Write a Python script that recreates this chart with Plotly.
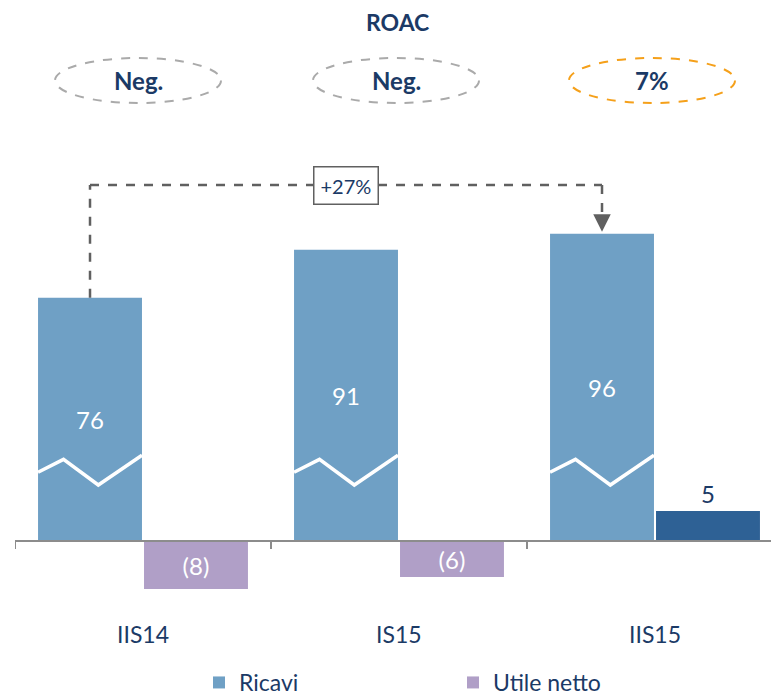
import plotly.graph_objects as go

# ---------------- data ----------------
categories = ["IIS14", "IS15", "IIS15"]
ricavi = [76, 91, 96]
utile_netto = [-8, -6, 5]
roac_labels = ["Neg.", "Neg.", "7%"]
growth_label = "+27%"

# ---------------- styling ----------------
NAVY = "#1b3a66"
C_RICAVI = "#6fa0c5"
C_NEG = "#b09fc7"
C_POS = "#2e6195"
GREY_LINE = "#606060"
FONT = "Lato"

OFF = 8                       # browser body margin
W, H = 779 - OFF, 698 - OFF
PLOT_L, PLOT_T, PLOT_B = 15, 120, 600   # page pixels
ML = PLOT_L - OFF
MT = PLOT_T - OFF
MB = H - (PLOT_B - OFF)
MR = 0
PW, PH = W - ML - MR, PLOT_B - PLOT_T
ZERO_PX = 541          # page pixel row of the zero line
K1, K2 = 3.2, 6.0      # px per unit for the two value axes
below = PLOT_B - ZERO_PX
above = ZERO_PX - PLOT_T
y1_range = [-below / K1, above / K1]
y2_range = [-below / K2, above / K2]

BAR_W = 0.406
GAP = 0.004
off_r = -(BAR_W + GAP)
off_u = GAP

x_idx = list(range(len(categories)))


def px2x(px):
    return (px - PLOT_L) / PW


def py2y(py):
    return (PLOT_B - py) / PH


def fmt(v):
    return f"({abs(v)})" if v < 0 else f"{v}"


fig = go.Figure()

fig.add_trace(go.Bar(
    x=x_idx, y=ricavi, name="Ricavi", yaxis="y",
    width=BAR_W, offset=off_r,
    marker=dict(color=C_RICAVI, line=dict(width=0)),
    text=[fmt(v) for v in ricavi], textposition="inside",
    insidetextanchor="middle",
    textfont=dict(color="white", size=24, family=FONT),
    hoverinfo="skip",
))

fig.add_trace(go.Bar(
    x=x_idx, y=utile_netto, name="Utile netto", yaxis="y2",
    width=BAR_W, offset=off_u,
    marker=dict(color=[C_NEG if v < 0 else C_POS for v in utile_netto],
                line=dict(width=0)),
    text=[fmt(v) for v in utile_netto],
    textposition=["inside" if v < 0 else "outside" for v in utile_netto],
    insidetextanchor="middle",
    textfont=dict(color=["white" if v < 0 else NAVY for v in utile_netto],
                  size=24, family=FONT),
    cliponaxis=False,
    hoverinfo="skip",
))

# zig-zag "axis break" decoration across each Ricavi bar
zz_fx = [0.0, 0.245, 0.58, 1.0]
zz_y = [21.5, 25.5, 17.5, 26.8]
for i in x_idx:
    xs = [i + off_r + f * BAR_W for f in zz_fx]
    fig.add_trace(go.Scatter(
        x=xs, y=zz_y, mode="lines", yaxis="y", showlegend=False,
        line=dict(color="white", width=3.5), hoverinfo="skip",
    ))

# growth bracket from first to last Ricavi bar
x_a = 0 + off_r + BAR_W / 2
x_b = len(categories) - 1 + off_r + BAR_W / 2
y_top = (ZERO_PX - 185) / K1
y_arrow_start = (ZERO_PX - 216) / K1
y_tip = ricavi[-1] + 2 / K1
dash = dict(color=GREY_LINE, width=2.5, dash="dash")
shapes = [
    dict(type="line", xref="x", yref="y", x0=x_a, x1=x_a, y0=ricavi[0], y1=y_top, line=dash),
    dict(type="line", xref="x", yref="y", x0=x_a, x1=x_b, y0=y_top, y1=y_top, line=dash),
    dict(type="line", xref="x", yref="y", x0=x_b, x1=x_b, y0=y_top, y1=y_arrow_start + 1, line=dash),
    # zero axis line
    dict(type="line", xref="paper", yref="y", x0=0, x1=1, y0=0, y1=0,
         line=dict(color="#8c8c8c", width=2)),
]
# ticks at category boundaries
for b in [-0.5, 0.5, 1.5, 2.5]:
    shapes.append(dict(type="line", xref="x", yref="y", x0=b, x1=b, y0=0, y1=-8 / K1,
                       line=dict(color="#8c8c8c", width=2)))

# ROAC ellipses
ell_cx = [138, 396, 652]
ell_col = ["#aaaaaa", "#aaaaaa", "#f5a01a"]
for cx, col in zip(ell_cx, ell_col):
    shapes.append(dict(type="circle", xref="paper", yref="paper",
                       x0=px2x(cx - 83), x1=px2x(cx + 83),
                       y0=py2y(103), y1=py2y(58),
                       line=dict(color=col, width=2, dash="dash")))

annotations = [
    dict(x=x_b, y=y_tip, ax=x_b, ay=y_arrow_start, xref="x", yref="y",
         axref="x", ayref="y", showarrow=True, arrowhead=2, arrowsize=1.4,
         arrowwidth=2.5, arrowcolor=GREY_LINE, text=""),
    dict(x=(x_a + x_b) / 2, y=y_top, xref="x", yref="y", text=growth_label,
         showarrow=False, bgcolor="white", bordercolor=GREY_LINE, borderwidth=1.5,
         borderpad=6, font=dict(color=NAVY, size=20, family=FONT)),
    dict(x=0.5, y=py2y(22), xref="paper", yref="paper", text="<b>ROAC</b>",
         xanchor="center", yanchor="middle",
         showarrow=False, font=dict(color=NAVY, size=23, family=FONT)),
]
for cx, lab in zip(ell_cx, roac_labels):
    annotations.append(dict(x=px2x(cx), y=py2y(81), xref="paper", yref="paper",
                            text=f"<b>{lab}</b>", showarrow=False,
                            xanchor="center", yanchor="middle",
                            font=dict(color=NAVY, size=24, family=FONT)))
for i, c in zip(x_idx, categories):
    annotations.append(dict(x=i, y=py2y(634), xref="x", yref="paper", text=c,
                            xanchor="center", yanchor="middle",
                            showarrow=False, font=dict(color=NAVY, size=23, family=FONT)))

fig.update_layout(
    width=W, height=H,
    margin=dict(l=ML, r=MR, t=MT, b=MB, autoexpand=False),
    paper_bgcolor="white", plot_bgcolor="white",
    font=dict(family=FONT, color=NAVY),
    xaxis=dict(range=[-0.5, -0.5 + PW / 256], showgrid=False, zeroline=False,
               showticklabels=False, showline=False, ticks="", fixedrange=True),
    yaxis=dict(range=y1_range, visible=False, showgrid=False, zeroline=False),
    yaxis2=dict(range=y2_range, overlaying="y", visible=False, showgrid=False,
                zeroline=False),
    barmode="overlay",
    shapes=shapes,
    annotations=annotations,
    showlegend=True,
    legend=dict(orientation="h", x=px2x(199), xanchor="left", y=py2y(661),
                yanchor="top", font=dict(size=23, color=NAVY, family=FONT),
                entrywidth=209, entrywidthmode="pixels", traceorder="normal",
                bgcolor="rgba(0,0,0,0)"),
)

fig.write_html("out.html")
